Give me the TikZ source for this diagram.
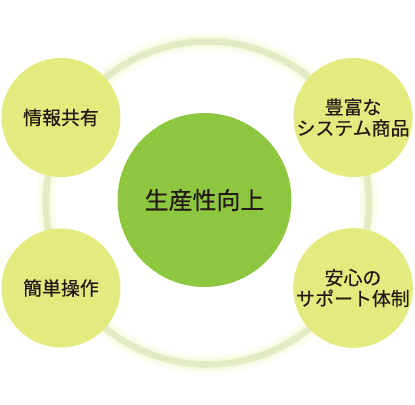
\documentclass[tikz,border=0pt]{standalone}
\usepackage{fontspec}
\newfontfamily\jp[FakeBold=0.4]{Noto Sans CJK JP}
\definecolor{ringgreen}{HTML}{E1EBC4}
\definecolor{glowgreen}{HTML}{F4F7D2}
\definecolor{leafgreen}{HTML}{8DC63F}
\definecolor{palegreen}{HTML}{E3EB7E}
\definecolor{inkdark}{HTML}{231815}
\begin{document}
\begin{tikzpicture}[x=1bp,y=-1bp,
		bubble/.style={circle,fill=palegreen,inner sep=0,minimum size=119bp,
			text=inkdark,align=center,font=\jp\fontsize{19}{21}\selectfont},
		hub/.style={circle,fill=leafgreen,inner sep=0,minimum size=174bp,
			text=inkdark,font=\jp\fontsize{24}{28}\selectfont}]
		\useasboundingbox (0,0) rectangle (415,405);
		\coordinate (ring) at (207.5,203);
		% soft glow round the ring
		\draw[glowgreen,line width=18bp,opacity=.3] (ring) circle[radius=161.5];
		\draw[glowgreen,line width=11bp,opacity=.5] (ring) circle[radius=161.5];
		\draw[ringgreen,line width=6.5bp] (ring) circle[radius=161.5];
		\node[hub] (core) at (204.5,200) {生産性向上};
		\node[bubble] (share) at (61,117.5) {情報共有};
		\node[bubble] (goods) at (353,117.5) {豊富な\\システム商品};
		\node[bubble] (easy) at (61,288) {簡単操作};
		\node[bubble] (support) at (353,288) {安心の\\サポート体制};
	\end{tikzpicture}
\end{document}
